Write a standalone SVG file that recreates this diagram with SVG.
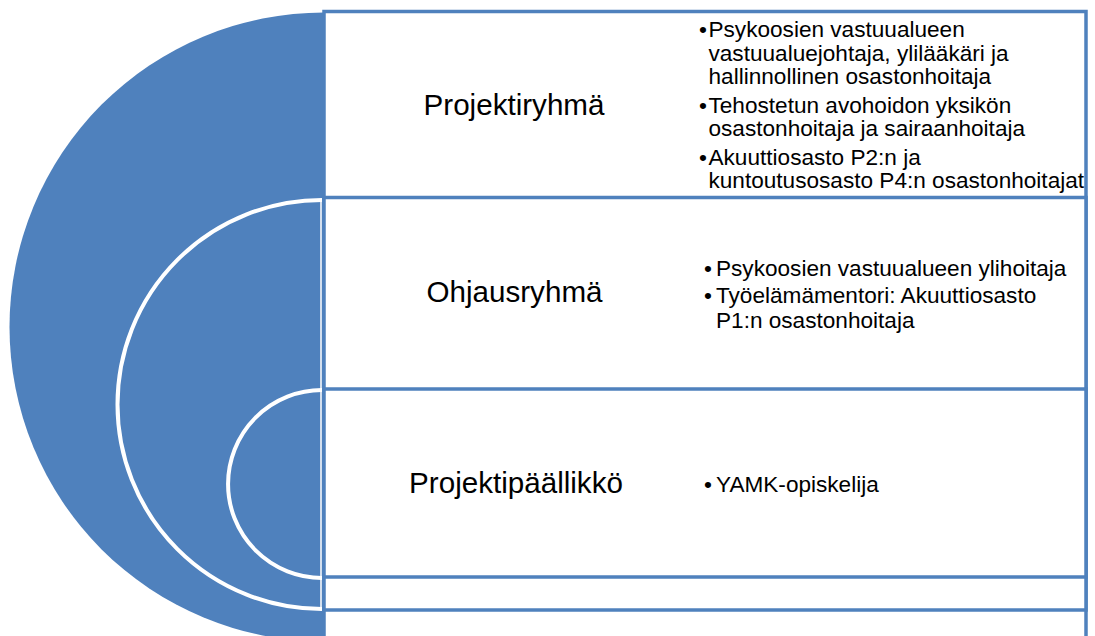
<svg xmlns="http://www.w3.org/2000/svg" width="1095" height="636" viewBox="0 0 1095 636">
  <style>
    .disc { fill: #4F81BD; stroke: none; }
    .arc { fill: none; stroke: #FFFFFF; stroke-width: 4; }
    .edge { stroke: #FFFFFF; stroke-width: 1.5; }
    .box { fill: #FFFFFF; stroke: #4F81BD; stroke-width: 3.5; }
    .label { font-family: "Liberation Sans", Arial, sans-serif; font-size: 29.6px; fill: #000000; text-anchor: middle; }
    .item { font-family: "Liberation Sans", Arial, sans-serif; font-size: 22.6px; fill: #000000; }
  </style>
  <rect width="1095" height="636" fill="#FFFFFF"/>
  <g id="circles">
    <path class="disc" d="M 324 12.5 A 314.5 314.5 0 0 0 324 641.5 Z"/>
    <path class="arc" d="M 322 200 A 204.5 204.5 0 0 0 322 609"/>
    <line class="edge" x1="321" y1="198" x2="321" y2="611"/>
    <path class="arc" d="M 322 390 A 94 94 0 0 0 322 578"/>
  </g>
  <g id="connectors"></g>
  <g id="node-projektiryhma">
    <rect class="box" x="324" y="11.5" width="762" height="640"/>
    <text class="label" x="514" y="115">Projektiryhmä</text>
    <text class="item" x="699" y="37">•<tspan x="708.5">Psykoosien vastuualueen</tspan></text>
    <text class="item" x="708.5" y="61">vastuualuejohtaja, ylilääkäri ja</text>
    <text class="item" x="708.5" y="84">hallinnollinen osastonhoitaja</text>
    <text class="item" x="699" y="113">•<tspan x="708.5">Tehostetun avohoidon yksikön</tspan></text>
    <text class="item" x="708.5" y="136">osastonhoitaja ja sairaanhoitaja</text>
    <text class="item" x="699" y="165">•<tspan x="708.5">Akuuttiosasto P2:n ja</tspan></text>
    <text class="item" x="708.5" y="188">kuntoutusosasto P4:n osastonhoitajat</text>
  </g>
  <g id="node-ohjausryhma">
    <rect class="box" x="324" y="197.5" width="762" height="412.5"/>
    <text class="label" x="514.5" y="302">Ohjausryhmä</text>
    <text class="item" x="704" y="276">•<tspan x="716">Psykoosien vastuualueen ylihoitaja</tspan></text>
    <text class="item" x="704" y="303">•<tspan x="716">Työelämämentori: Akuuttiosasto</tspan></text>
    <text class="item" x="716" y="328">P1:n osastonhoitaja</text>
  </g>
  <g id="node-projektipaallikko">
    <rect class="box" x="324" y="389" width="762" height="188"/>
    <text class="label" x="516" y="493">Projektipäällikkö</text>
    <text class="item" x="704" y="492">•<tspan x="716">YAMK-opiskelija</tspan></text>
  </g>
</svg>
